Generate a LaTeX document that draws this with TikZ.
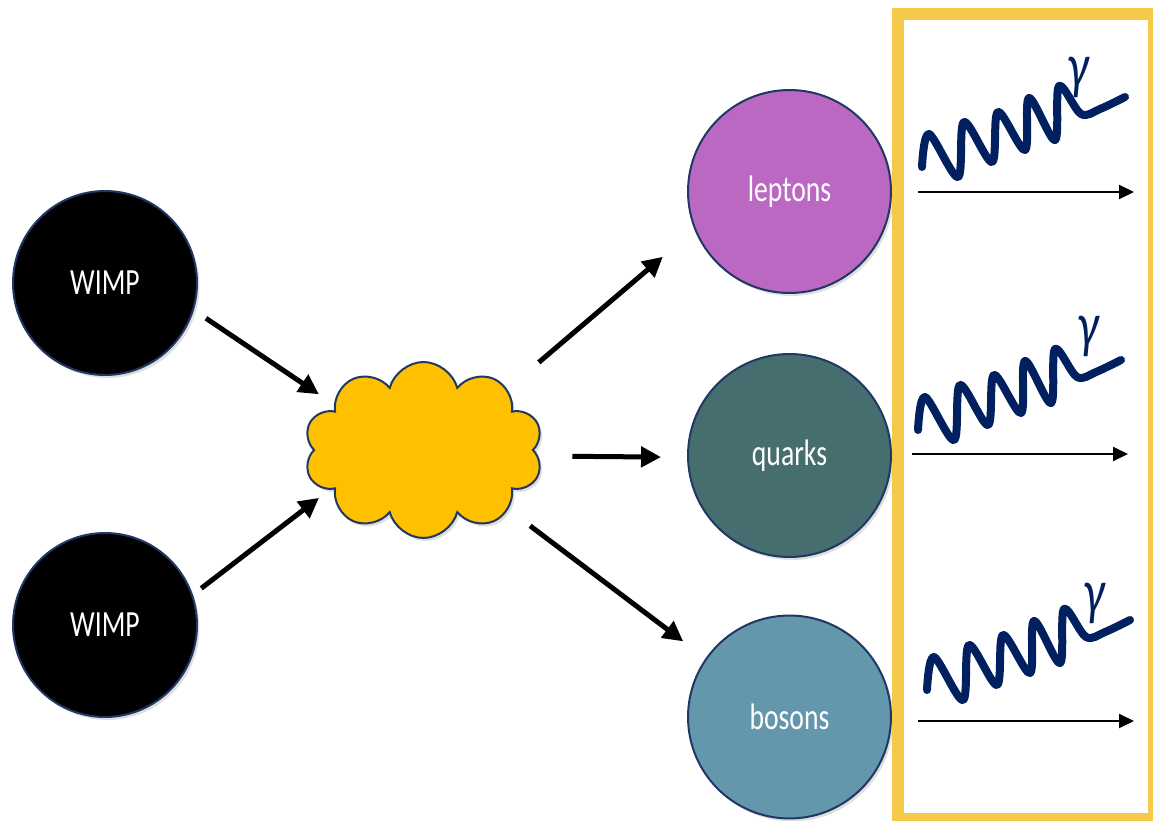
\documentclass[tikz,border=0pt]{standalone}
\usepackage{fontspec}
\setmainfont[FakeStretch=0.75]{Carlito}
\usetikzlibrary{shapes.symbols,arrows.meta,shadows}

\definecolor{navy}{HTML}{1F3864}
\definecolor{photonblue}{HTML}{002060}
\definecolor{leptoncol}{HTML}{BA68C2}
\definecolor{quarkcol}{HTML}{466E6E}
\definecolor{bosoncol}{HTML}{6497AB}
\definecolor{cloudcol}{HTML}{FFC000}
\definecolor{framecol}{HTML}{F5C94A}

\tikzset{
  softshadow/.style={drop shadow={opacity=0.25, shadow xshift=0.05cm, shadow yshift=-0.06cm}},
  particle/.style={circle, draw=navy, line width=0.04cm, text=white,
    font=\fontsize{21}{24}\selectfont, softshadow},
  wimp/.style={particle, fill=black, minimum size=3.68cm},
  product/.style={particle, minimum size=4.06cm},
  flow/.style={line width=0.1cm, -{Triangle[length=0.4cm,width=0.4cm]}},
  ray/.style={line width=0.04cm, -{Triangle[length=0.3cm,width=0.28cm]}},
  wave/.style={photonblue, line width=0.16cm, line cap=round, line join=round},
}

\begin{document}
\begin{tikzpicture}[x=0.02cm, y=-0.02cm]
\useasboundingbox (0,0) rectangle (1153,821);

% incoming particles
\node[wimp] (w1) at (105,283) {WIMP};
\node[wimp] (w2) at (105,625) {WIMP};

% annihilation
\node[cloud, cloud puffs=10, cloud puff arc=150, cloud ignores aspect,
  fill=cloudcol, draw=navy, line width=0.04cm, minimum width=4.78cm,
  minimum height=3.52cm, softshadow] (blob) at (423.5,450) {};

% products
\node[product, fill=leptoncol] (lep) at (789.5,191.5) {leptons};
\node[product, fill=quarkcol] (qua) at (789.5,455.5) {quarks};
\node[product, fill=bosoncol] (bos) at (789.5,717) {bosons};

\draw[flow, shorten <=0.29cm, shorten >=0.36cm] (w1.-17) -- (blob.153);
\draw[flow, shorten <=0.21cm, shorten >=0.26cm] (w2.19) -- (blob.203);
\draw[flow, shorten <=0.82cm, shorten >=0.83cm] (blob.36) -- (lep.202);
\draw[flow, shorten <=0.68cm, shorten >=0.52cm] (blob.-3) -- (qua.181);
\draw[flow, shorten <=0.54cm, shorten >=0.56cm] (blob.-35) -- (bos.145);

% gamma rays
\draw[framecol, line width=0.24cm] (898,14) rectangle (1154,819);
\foreach \dx/\dy/\gx/\gy/\ax/\ay [count=\i] in
  {0/0/0/0/918/192, -4/263/14/-5/912/454, 5/523/11/2/918/721} {
  \begin{scope}[shift={(\dx,\dy)}]
    \draw[wave] plot[smooth, tension=0.55] coordinates {(922,167) (929,134)
      (958,177) (964,122) (992,162) (998,112) (1025,150) (1029,98)
      (1055,140) (1059,86) (1081,114) (1100,109) (1125,97)};
    \node[text=photonblue, font=\fontsize{36}{40}\selectfont\itshape,
      inner sep=0, anchor=base] (g\i) at (1078+\gx,88+\gy) {γ};
  \end{scope}
  \coordinate (s\i) at (\ax,\ay);
  \coordinate (e\i) at (\ax+216,\ay);
  \draw[ray] (s\i) -- (e\i);
}
\end{tikzpicture}
\end{document}
